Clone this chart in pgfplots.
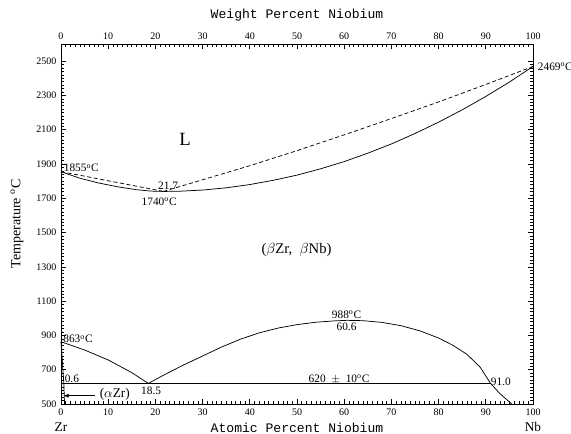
\documentclass[border=0pt]{standalone}
\usepackage{fontspec}
\setmainfont{Liberation Serif}
\setmonofont{Liberation Mono}
\usepackage{pgfplots}
\pgfplotsset{compat=1.18}
\usetikzlibrary{calc,arrows.meta}

\newcommand{\ann}{\fontsize{8.5}{9}\selectfont}
\newcommand{\dg}{\textsuperscript{o}}

\begin{document}
\begin{tikzpicture}
\begin{axis}[name=ax, scale only axis, width=354pt, height=270pt,
    at={(0,0)}, anchor=south west,
    xmin=0, xmax=100, ymin=500, ymax=2600,
    xtick={0,10,...,100}, ytick={500,700,...,2500},
    minor x tick num=9, minor y tick num=9,
    tick align=inside, xtick pos=both, ytick pos=both,
    xticklabel pos=lower, yticklabel pos=left,
    major tick length=4pt, minor tick length=2pt,
    tick style={black, line width=0.5pt},
    axis line style={line width=0.6pt},
    ticklabel style={font=\fontsize{7.5}{8}\selectfont},
    /pgf/number format/assume math mode=true,
    /pgf/number format/1000 sep={},
    clip=false]
  % solidus, left branch
  \addplot[black, line width=0.55pt] coordinates {
    (0,1855) (4,1817) (8,1789) (12,1767) (16,1750) (19,1742) (21.7,1740)};
  % liquidus, left branch (dashed)
  \addplot[black, line width=0.55pt, dash pattern=on 3pt off 2pt] coordinates {
    (0,1855) (5,1829) (10,1802) (15,1776) (21.7,1740)};
  % solidus, right branch
  \addplot[black, line width=0.55pt] coordinates {
    (21.7,1740) (25,1741) (30,1748) (35,1761) (40,1780) (45,1805) (50,1835)
    (55,1872) (60,1914) (65,1963) (70,2017) (75,2078) (80,2144) (85,2216)
    (90,2294) (95,2378) (100,2469)};
  % liquidus, right branch (dashed)
  \addplot[black, line width=0.55pt, dash pattern=on 3pt off 2pt] coordinates {
    (21.7,1740) (30,1808) (40,1890) (50,1978) (60,2070) (70,2165) (80,2262)
    (90,2364) (100,2469)};
  % beta transus from Zr side
  \addplot[black, line width=0.55pt] coordinates {
    (0,863) (5,815) (10,757) (15,683) (18.5,620)};
  % alpha Zr solvus
  \addplot[black, line width=0.55pt] coordinates {
    (0,863) (0.3,745) (0.6,620) (0.75,500)};
  % miscibility gap
  \addplot[black, line width=0.55pt] coordinates {
    (18.5,620) (22,672) (26,728) (30,780) (34,832) (38,878) (42,915) (46,943)
    (50,963) (54,977) (58,985) (60.6,988) (64,986) (68,976) (72,957) (76,927)
    (80,885) (83,843) (86,790) (88.8,715) (91,620) (93,560) (95.5,500)};
  % monotectoid line
  \addplot[black, line width=0.55pt] coordinates {(0.6,620) (91,620)};
  % arrow to (alpha Zr)
  \draw[line width=0.55pt, -{Latex[length=4pt,width=3pt]}] (axis cs:7.1,548) -- (axis cs:0.5,548);

  \node[font=\ann] at (axis cs:4.3,1875) {1855\dg C};
  \node[font=\ann] at (axis cs:22.7,1775) {21.7};
  \node[font=\ann] at (axis cs:20.8,1682) {1740\dg C};
  \node[font=\fontsize{14}{16}\selectfont] at (axis cs:26.3,2045) {L};
  \node[font=\fontsize{11}{12}\selectfont] at (axis cs:49.9,1398) {($\beta$Zr,\enspace$\beta$Nb)};
  \node[font=\ann] at (axis cs:3.6,878) {863\dg C};
  \node[font=\ann] at (axis cs:2.3,646) {0.6};
  \node[font=\ann] at (axis cs:19.1,578) {18.5};
  \node[font=\fontsize{10}{11}\selectfont] at (axis cs:11.4,558) {($\alpha$Zr)};
  \node[font=\ann] at (axis cs:60.5,1019) {988\dg C};
  \node[font=\ann] at (axis cs:60.5,951) {60.6};
  \node[font=\ann] at (axis cs:58.9,646) {620\ \ $\pm$\ \ 10\dg C};
  \node[font=\ann] at (axis cs:93.2,630) {91.0};
  \node[font=\ann, anchor=west, inner sep=0pt] at ([xshift=3.5pt]axis cs:100,2469) {2469\dg C};
\end{axis}

\begin{axis}[scale only axis, width=354pt, height=270pt,
    at={(ax.south west)}, anchor=south west,
    xmin=0, xmax=100, ymin=0, ymax=1,
    hide y axis, axis x line*=top,
    xtick={0,10,...,100}, xtick style={draw=none},
    axis line style={draw=none},
    ticklabel style={font=\fontsize{7.5}{8}\selectfont},
    /pgf/number format/assume math mode=true]
  \addplot[draw=none] coordinates {(0,0) (100,1)};
\end{axis}

\node[font=\ttfamily\fontsize{9.8}{11}\selectfont] at ($(ax.north)+(0,21.5pt)$) {Weight Percent Niobium};
\node[font=\ttfamily\fontsize{9.8}{11}\selectfont] at ($(ax.south)+(0,-18pt)$) {Atomic Percent Niobium};
\node[font=\fontsize{10}{11}\selectfont] at ($(ax.south west)+(0,-17pt)$) {Zr};
\node[font=\fontsize{10}{11}\selectfont] at ($(ax.south east)+(0,-17pt)$) {Nb};
\node[font=\fontsize{10.5}{12}\selectfont, rotate=90] at ($(ax.west)+(-33pt,0)$) {Temperature \dg C};

\pgfresetboundingbox
\path[use as bounding box] ($(ax.south west)+(-45.75pt,-22.5pt)$) rectangle ($(ax.north east)+(28.5pt,33pt)$);
\end{tikzpicture}
\end{document}
